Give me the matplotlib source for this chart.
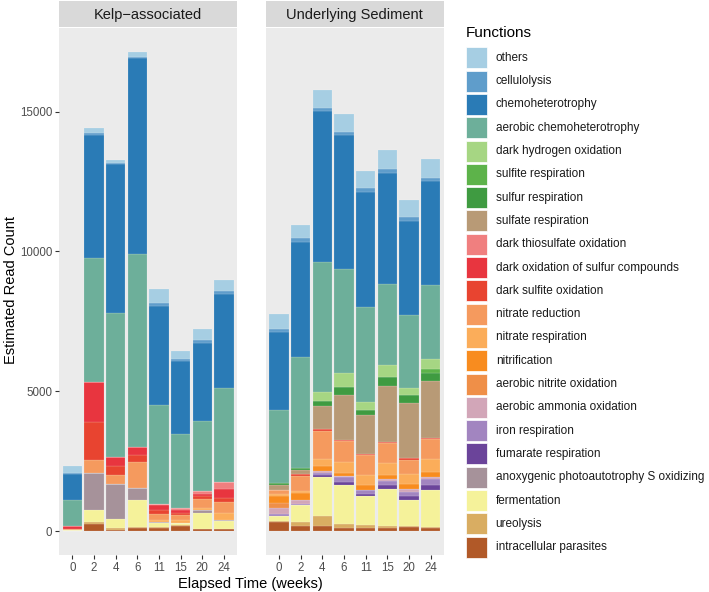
import numpy as np
import pandas as pd
import matplotlib
matplotlib.use("Agg")
import matplotlib.pyplot as plt
from matplotlib.patches import Rectangle

plt.rcParams['font.family'] = ['Liberation Sans', 'DejaVu Sans']

weeks = ["0", "2", "4", "6", "11", "15", "20", "24"]

# stack order, bottom to top
functions = [
    "intracellular parasites", "ureolysis", "fermentation",
    "anoxygenic photoautotrophy S oxidizing", "fumarate respiration",
    "iron respiration", "aerobic ammonia oxidation", "aerobic nitrite oxidation",
    "nitrification", "nitrate respiration", "nitrate reduction",
    "dark sulfite oxidation", "dark oxidation of sulfur compounds",
    "dark thiosulfate oxidation", "sulfate respiration", "sulfur respiration",
    "sulfite respiration", "dark hydrogen oxidation", "aerobic chemoheterotrophy",
    "chemoheterotrophy", "cellulolysis", "others",
]
colors = [
    "#B15928", "#D9AD62", "#F5F29A", "#A6929A", "#6B449A", "#A285C0",
    "#D2A6B8", "#EF8F48", "#F88C1F", "#FBAD5A", "#F59A5E", "#E84430",
    "#E8353F", "#F07F7F", "#B89A76", "#3F9B41", "#5DB34A", "#A6D683",
    "#6DAF9A", "#2A7BB6", "#5F9DCB", "#A6CEE3",
]

# estimated read counts per bar, in the stack order above
kelp_0 = [0, 0, 30, 0, 0, 0, 0, 0, 0, 0, 50, 0, 110, 0, 0, 0, 0, 0, 930, 920, 20, 260]
kelp_2 = [250, 80, 415, 1345, 0, 0, 0, 0, 0, 0, 440, 1370, 1430, 0, 0, 0, 0, 0, 4425, 4410, 60, 200]
kelp_4 = [50, 50, 320, 1250, 0, 0, 0, 0, 0, 0, 333, 320, 333, 0, 0, 0, 0, 0, 5160, 5300, 40, 100]
kelp_6 = [100, 50, 960, 415, 0, 0, 0, 0, 0, 0, 930, 275, 260, 0, 0, 0, 0, 0, 6925, 7000, 40, 180]
kelp_11 = [120, 30, 130, 40, 0, 0, 0, 0, 0, 70, 225, 120, 180, 60, 0, 0, 0, 0, 3535, 3550, 100, 500]
kelp_15 = [180, 45, 70, 0, 0, 0, 0, 0, 0, 110, 155, 80, 95, 95, 0, 0, 0, 0, 2641, 2600, 70, 307]
kelp_20 = [70, 20, 560, 95, 0, 0, 0, 0, 0, 80, 333, 80, 90, 107, 0, 0, 0, 0, 2486, 2800, 120, 400]
kelp_24 = [70, 20, 260, 60, 0, 0, 0, 0, 0, 240, 390, 150, 330, 250, 0, 0, 0, 0, 3330, 3370, 120, 400]

sed_0 = [320, 40, 180, 0, 0, 60, 240, 150, 250, 95, 140, 0, 0, 0, 180, 70, 0, 0, 2606, 2773, 120, 535]
sed_2 = [180, 140, 595, 0, 0, 60, 140, 0, 250, 80, 510, 70, 0, 0, 165, 80, 0, 0, 3948, 4105, 143, 476]
sed_4 = [180, 357, 1390, 0, 80, 60, 80, 0, 190, 240, 1010, 60, 0, 0, 830, 180, 0, 320, 4654, 5377, 120, 650]
sed_6 = [120, 120, 1390, 0, 120, 180, 35, 0, 120, 380, 740, 50, 0, 0, 1620, 275, 0, 510, 3713, 4795, 120, 620]
sed_11 = [107, 95, 1035, 0, 95, 120, 30, 0, 180, 345, 725, 35, 0, 0, 1380, 190, 0, 285, 3405, 4090, 150, 625]
sed_15 = [120, 50, 1345, 0, 120, 140, 70, 0, 165, 430, 700, 35, 0, 0, 2020, 300, 0, 440, 2892, 3987, 120, 680]
sed_20 = [140, 35, 950, 0, 140, 120, 120, 0, 180, 357, 510, 60, 0, 0, 1960, 285, 0, 250, 2606, 3392, 140, 600]
sed_24 = [95, 45, 1330, 0, 190, 200, 60, 0, 180, 475, 715, 35, 0, 0, 2045, 300, 120, 380, 2617, 3724, 120, 690]

kelp = pd.DataFrame([kelp_0, kelp_2, kelp_4, kelp_6, kelp_11, kelp_15, kelp_20, kelp_24],
                    index=weeks, columns=functions)
sed = pd.DataFrame([sed_0, sed_2, sed_4, sed_6, sed_11, sed_15, sed_20, sed_24],
                   index=weeks, columns=functions)
panels = [("Kelp\u2212associated", kelp), ("Underlying Sediment", sed)]

W, H = 709, 592
fig = plt.figure(figsize=(W / 100, H / 100), dpi=100)

ymax = max(kelp.sum(axis=1).max(), sed.sum(axis=1).max())
pad = ymax * 0.05


def px(x0, y0, x1, y1):
    # pixel box -> figure fraction rect
    return [x0 / W, 1 - y1 / H, (x1 - x0) / W, (y1 - y0) / H]


for i, (title, df) in enumerate(panels):
    x0 = 59.3 if i == 0 else 266
    ax = fig.add_axes(px(x0, 28, x0 + 177.7, 555))
    ax.set_facecolor("#EBEBEB")
    xs = np.arange(len(weeks))
    bottom = np.zeros(len(weeks))
    for f, c in zip(functions, colors):
        vals = df[f].to_numpy(dtype=float)
        ax.bar(xs, vals, width=0.9, bottom=bottom, color=c,
               edgecolor=(1, 1, 1, 0.35), linewidth=0.3)
        bottom += vals
    ax.set_xlim(-0.6, len(weeks) - 0.4)
    ax.set_ylim(-pad, ymax + pad)
    ax.set_xticks(xs)
    ax.set_xticklabels(weeks)
    ax.set_yticks([0, 5000, 10000, 15000])
    if i == 0:
        ax.set_yticklabels(["0", "5000", "10000", "15000"])
    else:
        ax.tick_params(axis="y", left=False, labelleft=False)
    ax.tick_params(colors="#333333", labelcolor="#4D4D4D", labelsize=8.3,
                   length=3, width=0.8, pad=2)
    for s in ax.spines.values():
        s.set_visible(False)
    # facet strip
    sax = fig.add_axes(px(x0, 1, x0 + 177.7, 27))
    sax.set_facecolor("#D9D9D9")
    sax.set_xticks([])
    sax.set_yticks([])
    for s in sax.spines.values():
        s.set_visible(False)
    sax.text(0.5, 0.48, title, ha="center", va="center", fontsize=10.5,
             color="#1A1A1A", transform=sax.transAxes)

fig.text(250 / W, 1 - 584 / H, "Elapsed Time (weeks)", ha="center", va="center",
         fontsize=10.5)
fig.text(11 / W, 1 - 290 / H, "Estimated Read Count", ha="center", va="center",
         rotation=90, fontsize=10.5)

# legend, top entry = last in stack
lax = fig.add_axes([0, 0, 1, 1])
lax.set_xlim(0, W)
lax.set_ylim(H, 0)
lax.axis("off")
lax.text(465.7, 33, "Functions", ha="left", va="center", fontsize=11)
for j, (f, c) in enumerate(zip(functions[::-1], colors[::-1])):
    y = 47.3 + j * 23.3
    lax.add_patch(Rectangle((465.7, y), 21.6, 21, facecolor=c, edgecolor="white",
                            linewidth=0.5))
    lax.text(495.7, y + 10.5, f, ha="left", va="center", fontsize=8.5,
             color="#1A1A1A")

fig.savefig("out.png", dpi=100, facecolor="white")
